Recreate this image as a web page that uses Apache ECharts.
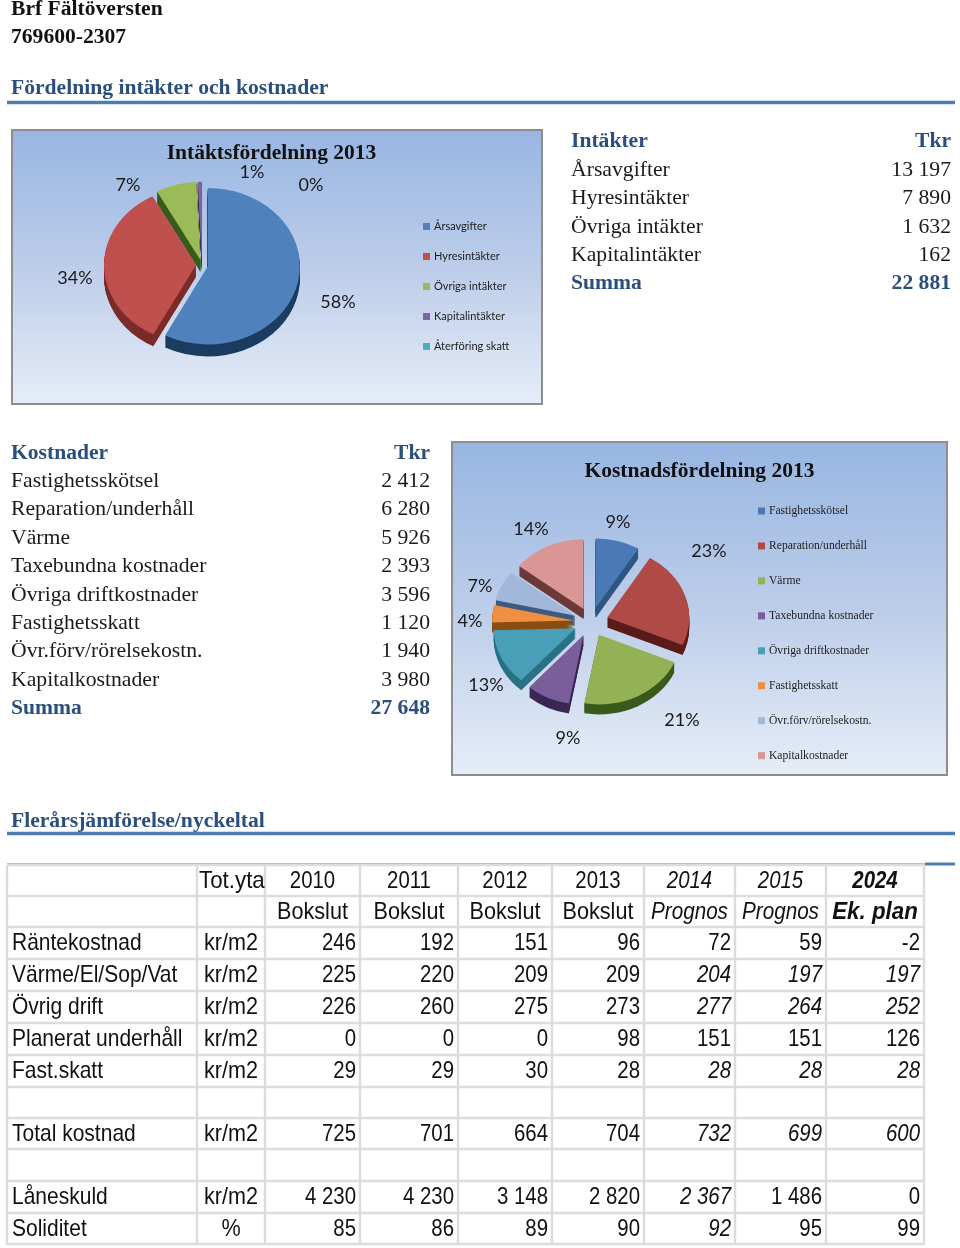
<!DOCTYPE html>
<html><head><meta charset="utf-8">
<style>html,body{margin:0;padding:0;background:#fff}#c{width:960px;height:1248px}</style>
<script src="https://cdn.jsdelivr.net/npm/echarts@6/dist/echarts.min.js"></script>
</head><body><div id="c"></div>
<script>
// ---- data ----
const incomeNames = ['Årsavgifter','Hyresintäkter','Övriga intäkter','Kapitalintäkter','Återföring skatt'];
const incomeValues = [13197,7890,1632,162,0];
const incomeSum = 22881;
const costNames = ['Fastighetsskötsel','Reparation/underhåll','Värme','Taxebundna kostnader','Övriga driftkostnader','Fastighetsskatt','Övr.förv/rörelsekostn.','Kapitalkostnader'];
const costValues = [2412,6280,5926,2393,3596,1120,1940,3980];
const costSum = 27648;
const yearHeads = ['2010','2011','2012','2013','2014','2015','2024'];
const kindHeads = ['Bokslut','Bokslut','Bokslut','Bokslut','Prognos','Prognos','Ek. plan'];
const rowNames = ['Räntekostnad','Värme/El/Sop/Vat','Övrig drift','Planerat underhåll','Fast.skatt','','Total kostnad','','Låneskuld','Soliditet'];
const rowUnits = ['kr/m2','kr/m2','kr/m2','kr/m2','kr/m2','','kr/m2','','kr/m2','%'];
const rowValues = [
 [246,192,151,96,72,59,-2],
 [225,220,209,209,204,197,197],
 [226,260,275,273,277,264,252],
 [0,0,0,98,151,151,126],
 [29,29,30,28,28,28,28],
 null,
 [725,701,664,704,732,699,600],
 null,
 [4230,4230,3148,2820,2367,1486,0],
 [85,86,89,90,92,95,99]
];
// ---- styling / layout ----
const italicFrom = [99,4,4,99,4,99,4,99,4,4];
const italicTo   = [0,6,6,0,6,0,6,0,4,4];
const incomeColors = ['#4f81bd','#c0504d','#9bbb59','#8064a2','#4bacc6'];
const incomeWalls  = ['#1c3c60','#7b2b29','#3a5a1b','#3d2a58','#1f6a80'];
const costColors = ['#4a7ab5','#b04a47','#93b155','#7a5d9b','#4a9fb8','#ee8f42','#a2b8da','#d99694'];
const costWalls  = ['#2f5580','#5a1c1a','#3a5a1b','#3a2852','#2a7086','#8a4d14','#3f5a80','#6b3a38'];
const incomeLabelPos = [[338,302],[75,278],[128,185],[252,172],[311,185]];
const costLabelPos = [[618,522],[709,551],[682,720],[568,738],[486,685],[470,621],[480,586],[531,529]];
const colX = [7,197,265,360,458,552,644,735,826,924];
const rowY = [865,896,927,959,991,1023,1055,1087,1118,1149,1181,1213,1244];
const tilt = 0.85;
const navy = '#2b4f7d', rule = '#4f7cb0';
const fmt = n => String(n).replace(/\B(?=(\d{3})+$)/g,' ');

const g = [];
function txt(x,y,text,font,fill,align,sx){
  g.push({type:'text',x,y,scaleX:sx||1,silent:true,z:5,style:{text,x:0,y:0,font,fill:fill||'#1a1a1a',align:align||'left',verticalAlign:'middle'}});
}
function hline(x1,x2,y,c,w){g.push({type:'line',silent:true,z:3,shape:{x1,y1:y,x2,y2:y},style:{stroke:c,lineWidth:w}});}
function vline(x,y1,y2,c,w){g.push({type:'line',silent:true,z:3,shape:{x1:x,y1,x2:x,y2},style:{stroke:c,lineWidth:w}});}
function box(x,y,w,h){
  g.push({type:'rect',silent:true,z:1,shape:{x,y,width:w,height:h},style:{stroke:'#8d8d8d',lineWidth:2,
    fill:{type:'linear',x:0,y:0,x2:0,y2:1,colorStops:[{offset:0,color:'#98b6e2'},{offset:0.5,color:'#bccde9'},{offset:1,color:'#e6edf8'}]}}});
}
const SB='bold 21.6px "Liberation Serif"', SR='21.7px "Liberation Serif"';
txt(11,9,'Brf Fältöversten',SB,'#111');
txt(11,37,'769600-2307',SB,'#111');
txt(11,88,'Fördelning intäkter och kostnader',SB,navy);
hline(7,955,102.5,rule,3.5);
txt(11,821,'Flerårsjämförelse/nyckeltal',SB,navy);
hline(7,955,833.5,rule,3.5);
hline(925,955,864,rule,3);
hline(7,925,864,'#8fa6c4',1.5);
box(12,130,530,274);
box(452,442,495,333);

// income table
const iY=[141,170,198,227,255,283];
txt(571,iY[0],'Intäkter',SB,navy); txt(951,iY[0],'Tkr',SB,navy,'right');
incomeNames.slice(0,4).forEach((n,i)=>{txt(571,iY[i+1],n,SR);txt(951,iY[i+1],fmt(incomeValues[i]),SR,null,'right');});
txt(571,iY[5],'Summa',SB,navy); txt(951,iY[5],fmt(incomeSum),SB,navy,'right');
// cost table
const cY0=453,cStep=28.4;
txt(11,cY0,'Kostnader',SB,navy); txt(430,cY0,'Tkr',SB,navy,'right');
costNames.forEach((n,i)=>{const y=cY0+cStep*(i+1);txt(11,y,n,SR);txt(430,y,fmt(costValues[i]),SR,null,'right');});
txt(11,cY0+cStep*9,'Summa',SB,navy); txt(430,cY0+cStep*9,fmt(costSum),SB,navy,'right');

// pie labels
incomeValues.forEach((v,i)=>txt(incomeLabelPos[i][0],incomeLabelPos[i][1],Math.round(v/incomeSum*100)+'%','18px Lato','#1a1a1a','center'));
costValues.forEach((v,i)=>txt(costLabelPos[i][0],costLabelPos[i][1],Math.round(v/costSum*100)+'%','18px Lato','#1a1a1a','center'));

// bottom table
const grid='#dcdcdc';
colX.forEach(x=>vline(x,865,1245,grid,2.4));
rowY.forEach(y=>hline(7,925,y,grid,2.4));
const AF='24px "Liberation Sans"', SXT=0.90, SXR=0.875, SXN=0.85;
const mid=i=>(colX[i]+colX[i+1])/2;
const cy=i=>(rowY[i]+rowY[i+1])/2+0.5;
txt(199,cy(0),'Tot.yta',AF,'#111','left',0.93);
yearHeads.forEach((t,i)=>{const st=i<4?'':(i<6?'italic ':'italic bold ');
  txt(mid(i+2),cy(0),t,st+AF,'#111','center',SXN);
  txt(mid(i+2),cy(1),kindHeads[i],st+AF,'#111','center',i<4?SXT:(i<6?0.86:0.93));});
rowNames.forEach((n,r)=>{
  const ry=r+2;
  if(n)txt(12,cy(ry),n,AF,'#111','left',SXR);
  if(rowUnits[r])txt(231,cy(ry),rowUnits[r],AF,'#111','center',SXT);
  if(rowValues[r])rowValues[r].forEach((v,c)=>{
    const it=c>=italicFrom[r]&&c<=italicTo[r];
    txt(colX[c+3]-4,cy(ry),fmt(v),(it?'italic ':'')+AF,'#111','right',SXN);
  });
});

function pieSeries(names,values,colors,walls,center,r,off,depth){
  const out=[];
  const mk=(cols)=>names.map((n,i)=>({name:n,value:values[i],selected:true,itemStyle:{color:cols[i]}}));
  const base={type:'pie',silent:true,animation:false,startAngle:90,radius:[0,r],
      selectedMode:'multiple',selectedOffset:off,select:{itemStyle:{borderWidth:0}},
      label:{show:false},labelLine:{show:false}};
  for(let d=depth;d>=1;d--) out.push({...base,center:[center[0],center[1]+d],data:mk(walls),z:2});
  out.push({...base,center,data:mk(colors),z:3});
  return out;
}
const series=[
  ...pieSeries(incomeNames,incomeValues,incomeColors,incomeWalls,[202,265],92,6,12),
  ...pieSeries(costNames,costValues,costColors,costWalls,[591,622],82,17,10)
];
const chart=echarts.init(document.getElementById('c'),null,{renderer:'canvas'});
chart.setOption({
  animation:false,
  backgroundColor:'#fff',
  title:[
    {text:'Intäktsfördelning 2013',left:266.5,top:137,textAlign:'center',textStyle:{fontFamily:'Liberation Serif',fontWeight:'bold',fontSize:21.5,color:'#111'}},
    {text:'Kostnadsfördelning 2013',left:694.5,top:455,textAlign:'center',textStyle:{fontFamily:'Liberation Serif',fontWeight:'bold',fontSize:21.5,color:'#111'}}
  ],
  legend:[
    {orient:'vertical',left:418,top:216,data:incomeNames.map((name,i)=>({name,itemStyle:{color:incomeColors[i]}})),selectedMode:false,itemWidth:7,itemHeight:7,itemGap:19,icon:'rect',
      textStyle:{fontFamily:'Lato',fontSize:11,color:'#222',padding:[0,0,0,-1]}},
    {orient:'vertical',left:753,top:500,data:costNames.map((name,i)=>({name,itemStyle:{color:costColors[i]}})),selectedMode:false,itemWidth:7,itemHeight:7,itemGap:22.95,icon:'rect',
      textStyle:{fontFamily:'Liberation Serif',fontSize:11.6,color:'#222',padding:[0,0,0,-1]}}
  ],
  graphic:{elements:g},
  series
});
// tilt the pies into the reference's perspective ellipse
let tilted=false;
function applyTilt(){
  if(tilted)return; tilted=true;
  const zr=chart.getZr();
  zr.storage.traverse(el=>{
    if(el.type!=='sector'||!el.shape)return;
    el.stopAnimation&&el.stopAnimation();
    const sel=el.states&&el.states.select;
    if(sel&&sel.y!=null){el.x=sel.x;el.y=sel.y*tilt;sel.y=el.y;}else{el.y*=tilt;}
    el.originX=el.shape.cx;el.originY=el.shape.cy;el.scaleY=tilt;
    el.markRedraw();
  });
  zr.refresh();
}
chart.on('finished',applyTilt);
setTimeout(applyTilt,400);
</script></body></html>
